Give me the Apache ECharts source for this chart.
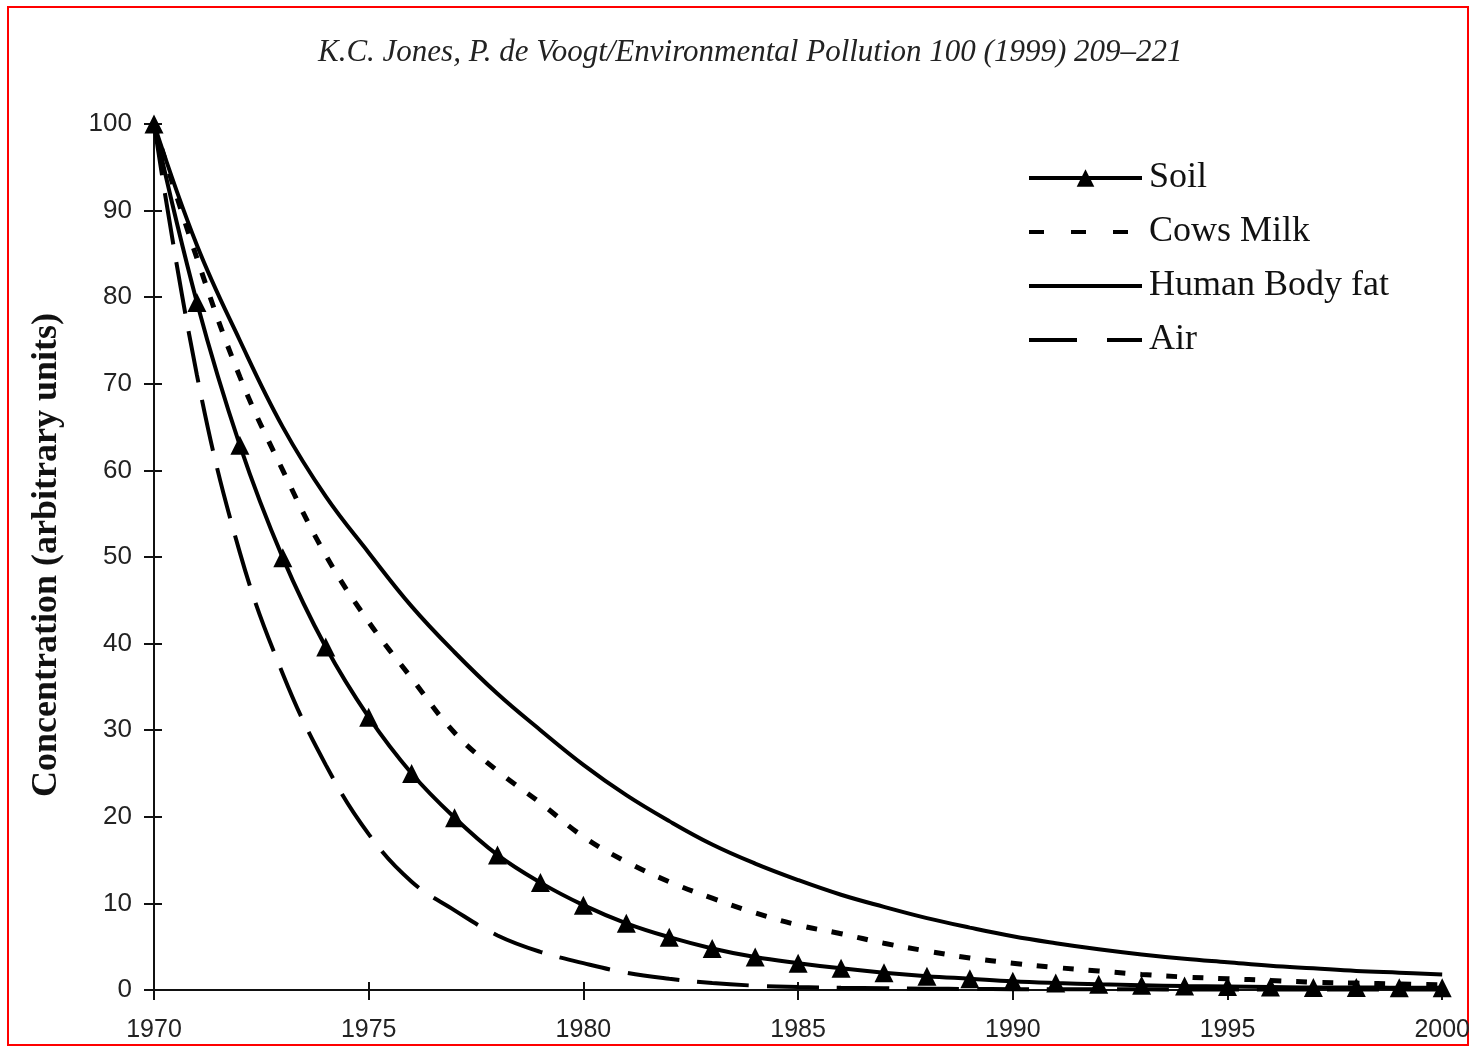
<!DOCTYPE html>
<html>
<head>
<meta charset="utf-8">
<script src="https://cdn.jsdelivr.net/npm/echarts@6/dist/echarts.min.js"></script>
<style>
html,body{margin:0;padding:0;background:#fff;}
#chart{width:1473px;height:1048px;}
</style>
</head>
<body>
<div id="chart"></div>
<script>
const years = [1970,1971,1972,1973,1974,1975,1976,1977,1978,1979,1980,1981,1982,1983,1984,1985,1986,1987,1988,1989,1990,1991,1992,1993,1994,1995,1996,1997,1998,1999,2000];
const soil = [100,79.4,62.9,49.9,39.6,31.5,25.0,19.9,15.6,12.4,9.8,7.7,6.1,4.8,3.8,3.1,2.5,2.0,1.6,1.3,1.0,0.8,0.65,0.55,0.45,0.4,0.35,0.3,0.3,0.25,0.25];
const cowsMilk = [100,84.5,70.8,60,50.2,42.5,36,29.7,25.3,21.6,17.7,14.8,12.5,10.6,8.9,7.5,6.5,5.4,4.5,3.7,3.1,2.6,2.2,1.8,1.5,1.3,1.1,0.9,0.8,0.7,0.6];
const bodyFat = [100,86,75,65,57,50.5,44.3,39.0,34.2,30,26,22.5,19.5,16.8,14.6,12.7,11.0,9.6,8.3,7.2,6.2,5.4,4.7,4.1,3.6,3.2,2.8,2.5,2.2,2.0,1.8];
const air = [100,71,50.5,36.5,26,18,12.5,9.2,6.3,4.4,3.1,2.0,1.3,0.8,0.5,0.35,0.25,0.2,0.15,0.12,0.1,0.1,0.08,0.08,0.06,0.06,0.05,0.05,0.05,0.05,0.05];
const seriesNames = ['Soil','Cows Milk','Human Body fat','Air'];
const titleText = 'K.C. Jones, P. de Voogt/Environmental Pollution 100 (1999) 209\u2013221';
const yAxisTitle = 'Concentration (arbitrary units)';

const pairs = arr => years.map((y,i) => [y, arr[i]]);

const chart = echarts.init(document.getElementById('chart'));
const axisCommon = {
  axisLine:{show:true,lineStyle:{color:'#111',width:2}},
  splitLine:{show:false}
};
chart.setOption({
  backgroundColor:'#fff',
  animation:false,
  grid:{left:154,right:29,top:124,bottom:58,containLabel:false},
  xAxis:[
    Object.assign({type:'value',min:1970,max:2000,interval:5,
      axisTick:{show:true,length:10,lineStyle:{color:'#111',width:2}},
      axisLabel:{margin:28,fontFamily:'Liberation Sans',fontSize:25,color:'#222',formatter:v=>String(v)}
    },axisCommon),
    {type:'value',min:1970,max:2000,interval:5,position:'bottom',
      axisLine:{show:false},axisTick:{show:true,inside:true,length:8,lineStyle:{color:'#111',width:2}},
      axisLabel:{show:false},splitLine:{show:false}}
  ],
  yAxis:[
    Object.assign({type:'value',min:0,max:100,interval:10,
      axisTick:{show:true,length:10,lineStyle:{color:'#111',width:2}},
      axisLabel:{margin:22,fontFamily:'Liberation Sans',fontSize:26,color:'#222'}
    },axisCommon),
    {type:'value',min:0,max:100,interval:10,position:'left',
      axisLine:{show:false},axisTick:{show:true,inside:true,length:8,lineStyle:{color:'#111',width:2}},
      axisLabel:{show:false},splitLine:{show:false}}
  ],
  legend:{
    orient:'vertical',left:1027,top:159,padding:0,
    itemWidth:113,itemHeight:22,itemGap:16,
    lineStyle:{width:4},
    data:[
      {name:seriesNames[0]},
      {name:seriesNames[1],itemStyle:{opacity:0},lineStyle:{type:[15,27]}},
      {name:seriesNames[2],itemStyle:{opacity:0}},
      {name:seriesNames[3],itemStyle:{opacity:0},lineStyle:{type:[48,30]}}
    ],
    textStyle:{fontFamily:'Liberation Serif',fontSize:36,color:'#111',lineHeight:38,padding:[0,0,0,2]}
  },
  graphic:[
    {type:'text',left:318,top:37,style:{text:titleText,font:'italic 31px "Liberation Serif"',fill:'#222'}},
    {type:'text',x:47,y:555,rotation:Math.PI/2,style:{text:yAxisTitle,font:'bold 36px "Liberation Serif"',fill:'#111',align:'center',verticalAlign:'middle'}},
    {type:'rect',shape:{x:8,y:7,width:1460,height:1038},style:{fill:'none',stroke:'#ff0000',lineWidth:2},silent:true}
  ],
  series:[
    {name:'Soil',type:'line',data:pairs(soil),smooth:0.4,clip:false,
      symbol:'triangle',symbolSize:19,showSymbol:true,
      itemStyle:{color:'#000'},lineStyle:{color:'#000',width:4}},
    {name:'Cows Milk',type:'line',data:pairs(cowsMilk),smooth:0.4,
      symbol:'none',itemStyle:{color:'#000'},lineStyle:{color:'#000',width:5,type:[11,15]}},
    {name:'Human Body fat',type:'line',data:pairs(bodyFat),smooth:0.4,
      symbol:'none',itemStyle:{color:'#000'},lineStyle:{color:'#000',width:4}},
    {name:'Air',type:'line',data:pairs(air),smooth:0.4,
      symbol:'none',itemStyle:{color:'#000'},lineStyle:{color:'#000',width:4,type:[52,18]}}
  ]
});
</script>
</body>
</html>
